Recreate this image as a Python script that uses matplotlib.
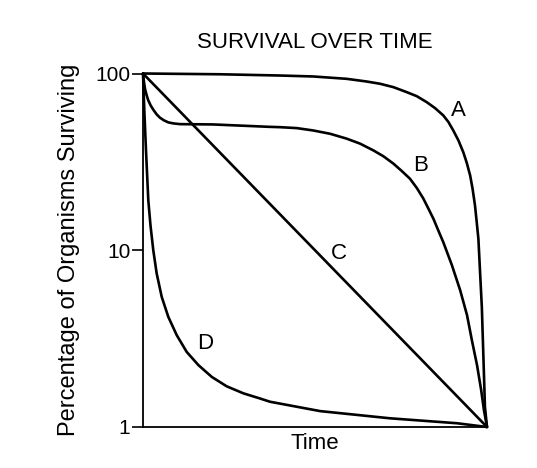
import numpy as np
import matplotlib
matplotlib.use("Agg")
import matplotlib.pyplot as plt

plt.rcParams['font.family'] = ['Liberation Sans', 'DejaVu Sans']

# curve A - type I (late loss)
time_a = [0, 22.4, 39.8, 49.5, 59.2, 65.0, 68.9, 72.8, 76.7, 79.6, 82.5, 84.9, 87.3,
          88.8, 90.2, 91.7, 93.1, 94.1, 95.1, 95.8, 96.5, 97.0, 97.5, 98.0, 98.5,
          98.8, 99.1, 99.4, 100]
surv_a = [100, 99.0, 97.4, 96.2, 93.3, 90.1, 87.5, 83.7, 78.4, 74.4, 68.8, 63.7, 57.9,
          53.1, 47.6, 41.8, 35.9, 31.3, 26.5, 22.3, 18.0, 14.5, 11.6, 7.41, 4.76,
          3.10, 2.02, 1.30, 1]

# curve B - early drop then plateau
time_b = [0, 0.29, 0.58, 1.08, 1.54, 2.24, 2.99, 3.98, 4.94, 6.10, 7.35, 8.81, 10.8,
          20.3, 36.9, 39.8, 44.7, 49.5, 54.4, 59.2, 63.1, 67.0, 69.9, 72.8, 75.2,
          77.6, 79.6, 81.5, 82.9, 84.4, 85.8, 87.3, 89.8, 92.2, 94.2, 95.6, 97.1,
          98.3, 99.1, 100]
surv_b = [100, 89.3, 81.9, 75.1, 70.4, 65.9, 62.4, 58.7, 56.2, 54.3, 52.9, 52.2, 51.7,
          51.5, 49.9, 49.7, 49.1, 47.6, 45.6, 42.8, 40.1, 36.7, 34.0, 30.9, 28.1,
          25.4, 22.5, 19.6, 17.3, 15.1, 13.0, 11.1, 8.23, 5.94, 4.29, 3.10, 2.24,
          1.62, 1.25, 1]

# curve C - constant rate
time_c = [0, 100]
surv_c = [100, 1]

# curve D - type III (early loss)
time_d = [0, 0.38, 0.87, 1.54, 2.18, 2.99, 3.98, 5.44, 7.35, 9.80, 12.7, 16.1, 20.0,
          24.3, 29.2, 34.0, 36.9, 51.5, 71.8, 91.3, 100]
surv_d = [100, 61.8, 36.7, 19.2, 13.8, 10.0, 7.38, 5.45, 4.20, 3.31, 2.66, 2.24, 1.92,
          1.70, 1.55, 1.45, 1.39, 1.23, 1.12, 1.05, 1]

labels = ['A', 'B', 'C', 'D']
label_pos = [(91.6, 61.8), (80.8, 30.2), (57.0, 9.6), (18.0, 2.98)]

y_ticks = [1, 10, 100]
y_tick_labels = ['1', '10', '100']

fig = plt.figure(figsize=(5.37, 4.68), dpi=100)
ax = fig.add_axes([143 / 537, 41 / 468, 344 / 537, 353.5 / 468])

for t, s in [(time_a, surv_a), (time_b, surv_b), (time_c, surv_c), (time_d, surv_d)]:
    ax.plot(t, s, color='black', lw=1.9, solid_joinstyle='round', solid_capstyle='round',
            clip_on=False)

for lab, (tx, ty) in zip(labels, label_pos):
    ax.text(tx, ty, lab, fontsize=16, ha='center', va='center')

ax.set_yscale('log')
ax.set_xlim(0, 100)
ax.set_ylim(1, 100)
ax.set_yticks(y_ticks)
ax.set_yticklabels(y_tick_labels)
ax.minorticks_off()
ax.set_xticks([])
ax.tick_params(axis='y', length=8, width=1.2, labelsize=15, pad=1)

ax.spines['top'].set_visible(False)
ax.spines['right'].set_visible(False)
ax.spines['left'].set_linewidth(1.3)
ax.spines['bottom'].set_linewidth(1.3)

ax.set_xlabel('Time', fontsize=16, labelpad=4)
ax.set_ylabel('Percentage of Organisms Surviving', fontsize=17, labelpad=11)
ax.set_title('SURVIVAL OVER TIME', fontsize=16, pad=18)

fig.savefig('out.png', dpi=100)
